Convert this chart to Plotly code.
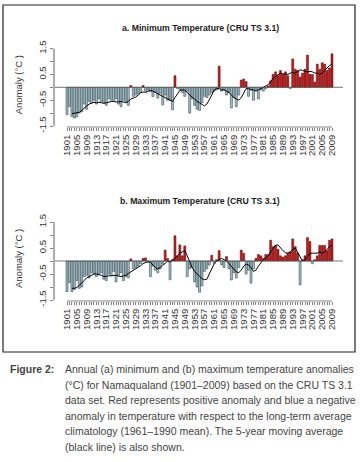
import plotly.graph_objects as go

W, H = 363, 462

years = list(range(1901, 2010))
label_years = list(range(1901, 2010, 4))

min_anom = [
    -1.06, -0.75, -1.13, -1.19, -1.15, -1.00, -0.95, -0.65, -0.85, -0.55,
    -0.60, -0.50, -0.65, -0.45, -0.55, -0.60, -0.70, -0.45, -0.50, -0.55,
    -0.45, -0.65, -0.75, -0.50, -0.55, -0.70, 0.07, -0.35, -0.30, -0.25,
    -0.20, 0.07, -0.15, -0.10, -0.17, -0.36, -0.17, -0.42, -0.23, -0.68,
    -0.30, -0.50, -0.50, -0.87, 0.45, -0.05, -0.10, -0.20, -0.35, -0.15,
    -1.00, -0.45, -0.70, -0.85, -0.90, -0.60, -0.35, -0.40, -0.30, -0.20,
    -0.15, -0.10, 0.82, -0.15, -0.10, -0.30, -0.20, -0.80, -0.40, -0.75,
    -0.30, 0.28, 0.32, 0.22, -0.35, -0.10, -0.50, -0.10, -0.45, -0.10,
    -0.15, -0.05, 0.05, 0.25, 0.50, 0.60, 0.45, 0.65, 0.50, 0.60,
    0.45, -0.05, 1.10, 0.70, 0.65, 0.40, 0.55, 0.70, 1.25, 0.50,
    0.50, 0.20, 0.90, 0.70, 0.95, 0.90, 0.65, 0.75, 1.30,
]

max_anom = [
    -1.18, -0.83, -1.18, -1.10, -0.75, -1.05, -1.00, -0.60, -0.55, -0.65,
    -0.45, -0.50, -0.60, -0.50, -0.45, -0.70, -0.75, -0.50, -0.55, -0.40,
    -0.80, -0.55, -0.45, -0.75, -0.60, -0.65, 0.08, -0.30, -0.25, -0.20,
    -0.10, 0.10, 0.12, -0.05, -0.60, -0.20, -0.35, -0.45, -0.30, -0.10,
    0.42, 0.10, -0.72, 0.05, 0.97, 0.20, 0.62, 0.20, 0.58, -0.60,
    -0.30, -0.25, -0.80, -1.00, -1.20, -0.95, -0.40, -0.30, -0.15, 0.22,
    -0.10, 0.05, 0.40, -0.15, -0.25, 0.17, -0.30, -0.73, -0.45, -0.65,
    -0.25, 0.42, 0.30, -0.50, -0.35, -0.85, -0.30, 0.10, 0.25, 0.20,
    0.10, 0.25, 0.25, 0.80, 0.55, 0.60, 0.45, 0.20, 0.15, 0.20,
    0.30, 0.35, 0.85, 0.55, 0.30, -0.92, 0.05, 0.20, 0.90, 0.75,
    -0.10, 0.05, 0.20, 0.60, 0.60, 0.60, 0.40, 0.80, 0.85,
]

ma_years = list(range(1903, 2010))
min_ma = [
    -1.02, -1.00, -1.00, -0.97, -0.90, -0.80, -0.72, -0.65, -0.60, -0.58,
    -0.60, -0.58, -0.60, -0.62, -0.60, -0.57, -0.55, -0.55, -0.57, -0.56,
    -0.55, -0.57, -0.60, -0.55, -0.45, -0.42, -0.38, -0.30, -0.22, -0.18,
    -0.20, -0.15, -0.12, -0.15, -0.20, -0.25, -0.30, -0.32, -0.40, -0.45,
    -0.50, -0.55, -0.40, -0.25, -0.12, -0.10, -0.12, -0.20, -0.30, -0.38,
    -0.45, -0.55, -0.60, -0.65, -0.72, -0.65, -0.50, -0.30, -0.10, -0.05,
    -0.05, -0.10, -0.10, -0.15, -0.20, -0.30, -0.40, -0.45, -0.50, -0.40,
    -0.20, -0.05, -0.05, -0.10, -0.10, -0.15, -0.10, -0.05, 0.00, 0.02,
    0.10, 0.22, 0.35, 0.42, 0.50, 0.55, 0.52, 0.50, 0.50, 0.55,
    0.58, 0.55, 0.60, 0.68, 0.65, 0.62, 0.60, 0.62, 0.60, 0.55,
    0.55, 0.50, 0.55, 0.65, 0.75, 0.85, 0.90,
]
max_ma = [
    -1.05, -1.05, -1.02, -0.95, -0.85, -0.75, -0.65, -0.60, -0.55, -0.50,
    -0.50, -0.52, -0.55, -0.60, -0.58, -0.57, -0.57, -0.55, -0.55, -0.58,
    -0.60, -0.57, -0.55, -0.48, -0.42, -0.38, -0.32, -0.25, -0.18, -0.10,
    -0.05, -0.02, -0.05, -0.15, -0.25, -0.30, -0.25, -0.15, -0.10, 0.00,
    -0.05, 0.05, 0.10, 0.20, 0.30, 0.35, 0.40, 0.20, -0.05, -0.25,
    -0.40, -0.50, -0.60, -0.68, -0.72, -0.70, -0.50, -0.30, -0.10, 0.00,
    0.05, 0.10, 0.05, 0.00, -0.10, -0.20, -0.30, -0.42, -0.45, -0.35,
    -0.20, -0.12, -0.15, -0.25, -0.40, -0.35, -0.20, -0.05, 0.05, 0.12,
    0.20, 0.35, 0.50, 0.60, 0.62, 0.50, 0.40, 0.32, 0.30, 0.35,
    0.45, 0.50, 0.35, 0.15, 0.00, 0.05, 0.20, 0.30, 0.30, 0.30,
    0.30, 0.35, 0.30, 0.35, 0.45, 0.55, 0.60,
]

titles = ["a. Minimum Temperature (CRU TS 3.1)", "b. Maximum Temperature (CRU TS 3.1)"]
ylabel = "Anomaly (°C )"
ytick_vals = [-1.5, -1.0, -0.5, 0.0, 0.5, 1.0, 1.5]
ytick_text = ["-1.5", "", "-0.5", "", "0.5", "", "1.5"]
caption_head = "Figure 2:"
caption_lines = [
    "Annual (a) minimum and (b) maximum temperature anomalies",
    "(°C) for Namaqualand (1901–2009) based on the CRU TS 3.1",
    "data set. Red represents positive anomaly and blue a negative",
    "anomaly in temperature with respect to the long-term average",
    "climatology (1961–1990 mean). The 5-year moving average",
    "(black line) is also shown.",
]


def px(x):
    return x / W


def py(y):
    return 1 - y / H


BLUE = "#a2c0ca"
RED = "#c41a1a"
FONT = "Liberation Sans, Arial, sans-serif"
TXT = "#333333"

fig = go.Figure()

panels = [
    dict(vals=min_anom, ma=min_ma, xa="x", ya="y", top=45, bot=127, zero=87.3, unit=25.8, tity=28),
    dict(vals=max_anom, ma=max_ma, xa="x2", ya="y2", top=218, bot=301, zero=261.0, unit=26.0, tity=201),
]

x_left, x_right = 54, 343
x1901, x2009 = 67, 332
spp = (x2009 - x1901) / (2009 - 1901)
xr = [1901 - (x1901 - x_left) / spp, 2009 + (x_right - x2009) / spp]

ticktext = [str(y) if y in label_years else "" for y in years]

for i, p in enumerate(panels):
    colors = [RED if v > 0 else BLUE for v in p["vals"]]
    lines = ["#5a0a0a" if v > 0 else "#26343a" for v in p["vals"]]
    fig.add_trace(go.Bar(x=years, y=p["vals"], marker=dict(color=colors, line=dict(color=lines, width=0.5)),
                         width=0.82, xaxis=p["xa"], yaxis=p["ya"], showlegend=False, hoverinfo="skip"))
    fig.add_trace(go.Scatter(x=ma_years, y=p["ma"], mode="lines", line=dict(color="black", width=1),
                             xaxis=p["xa"], yaxis=p["ya"], showlegend=False, hoverinfo="skip"))
    yr = [-(p["bot"] - p["zero"]) / p["unit"], (p["zero"] - p["top"]) / p["unit"]]
    sfx = "" if i == 0 else "2"
    fig.update_layout(**{
        "xaxis" + sfx: dict(domain=[px(x_left), px(x_right)], range=xr, tickvals=years, ticktext=ticktext,
                            tickangle=-90, ticks="outside", ticklen=3, tickwidth=0.6, tickcolor="#333",
                            showgrid=False, zeroline=False, showline=False, automargin=False,
                            anchor="y" + sfx, tickfont=dict(family=FONT, size=9.5, color=TXT)),
        "yaxis" + sfx: dict(domain=[py(p["bot"]), py(p["top"])], range=yr, tickvals=ytick_vals, ticktext=ytick_text,
                            tickangle=-90, ticks="outside", ticklen=3, tickwidth=0.6, tickcolor="#333",
                            showgrid=False, zeroline=False, showline=False, automargin=False,
                            anchor="x" + sfx, tickfont=dict(family=FONT, size=9.5, color=TXT)),
    })
    fig.add_shape(type="line", xref="paper", yref=p["ya"], x0=px(x_left + 1), x1=px(x_right), y0=0, y1=0,
                  line=dict(color="#555", width=0.8))
    fig.add_shape(type="line", xref="paper", yref=p["ya"], x0=px(x_left), x1=px(x_left), y0=-1.5, y1=1.5,
                  line=dict(color="#333", width=0.8))
    fig.add_shape(type="line", xref=p["xa"], yref="paper", x0=1901, x1=2009, y0=py(p["bot"]), y1=py(p["bot"]),
                  line=dict(color="#333", width=0.6))
    fig.add_annotation(text="<b>" + titles[i] + "</b>", x=px(200), y=py(p["tity"]), xref="paper", yref="paper",
                       showarrow=False, xanchor="center", yanchor="middle",
                       font=dict(family=FONT, size=8.7, color="#222"))
    fig.add_annotation(text=ylabel, x=px(18), y=py(p["zero"] - 2), xref="paper", yref="paper", textangle=-90,
                       showarrow=False, xanchor="center", yanchor="middle",
                       font=dict(family=FONT, size=9.5, color=TXT))

fig.add_shape(type="rect", xref="paper", yref="paper", x0=px(3), x1=px(355), y0=py(352), y1=py(5),
              line=dict(color="#222", width=1.2))

CAP = "Liberation Sans, Arial, sans-serif"
fig.add_annotation(text="<b>" + caption_head + "</b>", x=px(8), y=py(369), xref="paper", yref="paper",
                   showarrow=False, xanchor="left", yanchor="middle", font=dict(family=CAP, size=10.5, color="#444"))
for k, line in enumerate(caption_lines):
    fig.add_annotation(text=line, x=px(63), y=py(369 + 15.6 * k), xref="paper", yref="paper",
                       showarrow=False, xanchor="left", yanchor="middle",
                       font=dict(family=CAP, size=10.5, color="#444"))

fig.update_layout(width=W, height=H, margin=dict(l=0, r=0, t=0, b=0), paper_bgcolor="white",
                  plot_bgcolor="white", bargap=0, template="none", showlegend=False, hovermode=False)

fig.write_html("out.html", config={"displayModeBar": False, "staticPlot": True},
               post_script="document.body.style.margin='0px';")
